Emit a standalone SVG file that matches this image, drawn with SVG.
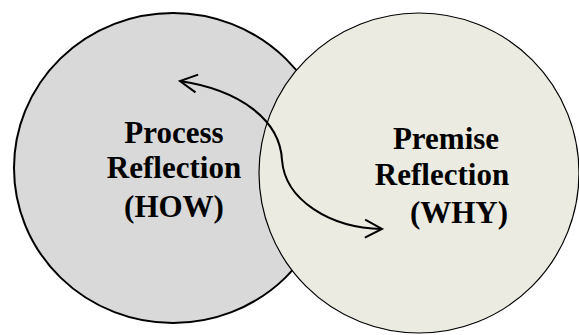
<svg xmlns="http://www.w3.org/2000/svg" width="579" height="335" viewBox="0 0 579 335">
<style>
.lbl{font-family:"Liberation Serif","Times New Roman",serif;font-weight:bold;font-size:31px;fill:#000;text-anchor:middle}
.conn{fill:none;stroke:#000;stroke-width:2}
</style>
<defs>
<marker id="chev" markerUnits="userSpaceOnUse" markerWidth="24" markerHeight="24" viewBox="-20 -12 24 24" refX="0" refY="0" orient="auto-start-reverse">
<path d="M-17,-9 L0,0 L-17,9" fill="none" stroke="#000" stroke-width="2"/>
</marker>
</defs>
<rect width="579" height="335" fill="#fff"/>
<g id="process">
<ellipse cx="173" cy="168" rx="159" ry="155" fill="#d9d9d9" stroke="#000" stroke-width="2"/>
</g>
<g id="premise">
<ellipse cx="419" cy="173" rx="160" ry="160" fill="#ecebe1" stroke="#000" stroke-width="1.2"/>
</g>
<g id="connectors">
<path class="conn" d="M180,81 C240,90 280,120 282,160 C285,200 330,228 382,229" marker-start="url(#chev)" marker-end="url(#chev)"/>
</g>
<g id="process-label">
<text class="lbl" x="174" y="143">Process</text>
<text class="lbl" x="174" y="178">Reflection</text>
<text class="lbl" x="174" y="217">(HOW)</text>
</g>
<g id="premise-label">
<text class="lbl" x="446" y="149">Premise</text>
<text class="lbl" x="442" y="185">Reflection</text>
<text class="lbl" x="459" y="223">(WHY)</text>
</g>
</svg>
